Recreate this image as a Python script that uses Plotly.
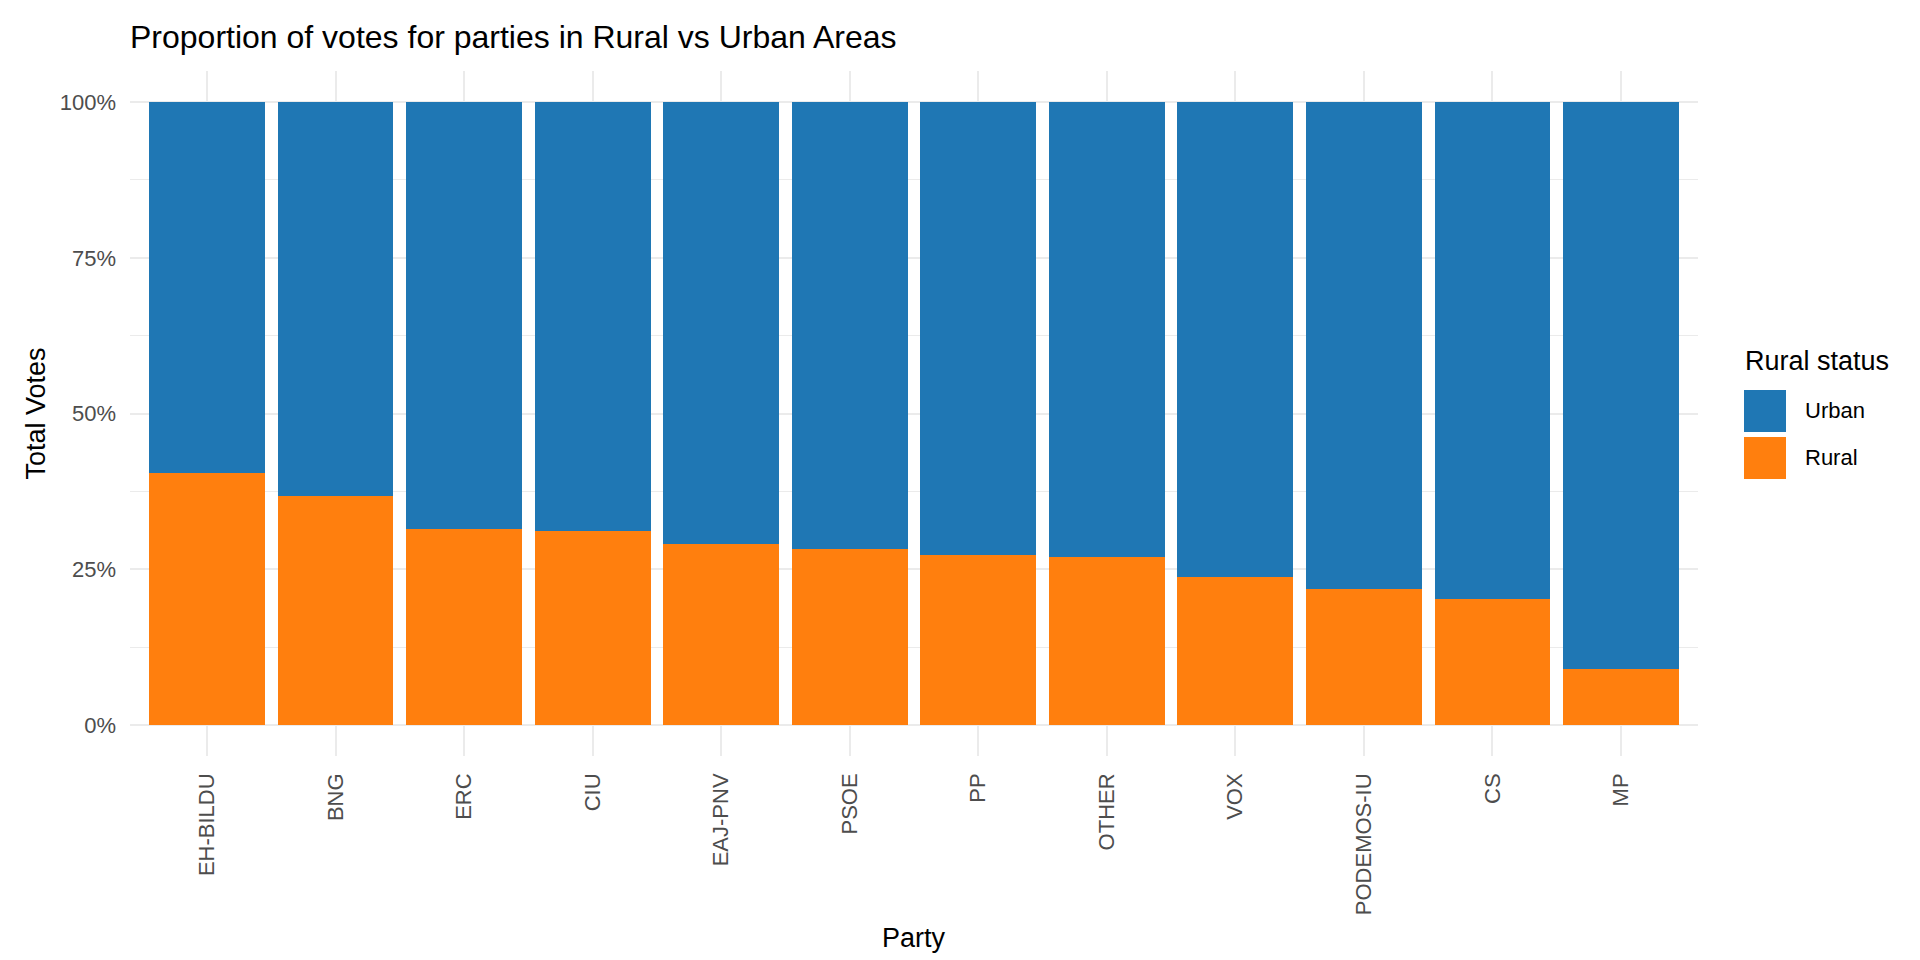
import plotly.graph_objects as go

parties = ["EH-BILDU", "BNG", "ERC", "CIU", "EAJ-PNV", "PSOE", "PP", "OTHER",
           "VOX", "PODEMOS-IU", "CS", "MP"]
rural_share = [0.405, 0.367, 0.315, 0.311, 0.290, 0.283, 0.272, 0.269,
               0.237, 0.218, 0.202, 0.090]
urban_share = [round(1 - r, 3) for r in rural_share]
y_tickvals = [0, 0.25, 0.5, 0.75, 1.0]
y_ticktext = ["0%", "25%", "50%", "75%", "100%"]

BLUE = "#1F77B4"
ORANGE = "#FF7F0E"
GRID = "#EBEBEB"
FONT = "Liberation Sans, Arial, sans-serif"

W, H = 1920, 960
L, R, T, B = 122, 1690, 63, 748  # plot area in pixels


def px(x):
    return (x - L) / (R - L)


def py(y):
    return (B - y) / (B - T)


fig = go.Figure()
fig.add_trace(go.Bar(x=parties, y=rural_share, name="Rural", marker_color=ORANGE,
                     marker_line_width=0, showlegend=False))
fig.add_trace(go.Bar(x=parties, y=urban_share, name="Urban", marker_color=BLUE,
                     marker_line_width=0, showlegend=False))

# legend drawn manually (ggplot-like large keys)
shapes = [
    dict(type="rect", xref="paper", yref="paper", x0=px(1736), x1=px(1778),
         y0=py(424), y1=py(382), fillcolor=BLUE, line_width=0),
    dict(type="rect", xref="paper", yref="paper", x0=px(1736), x1=px(1778),
         y0=py(471), y1=py(429), fillcolor=ORANGE, line_width=0),
]
annotations = [
    dict(text="Rural status", xref="paper", yref="paper", x=px(1735), y=py(353),
         xanchor="left", yanchor="middle", showarrow=False,
         font=dict(family=FONT, size=27, color="#000000")),
    dict(text="Urban", xref="paper", yref="paper", x=px(1795), y=py(403),
         xanchor="left", yanchor="middle", showarrow=False,
         font=dict(family=FONT, size=22, color="#000000")),
    dict(text="Rural", xref="paper", yref="paper", x=px(1795), y=py(450),
         xanchor="left", yanchor="middle", showarrow=False,
         font=dict(family=FONT, size=22, color="#000000")),
    # axis titles
    dict(text="Party", xref="paper", yref="paper", x=0.5, y=py(930),
         xanchor="center", yanchor="middle", showarrow=False,
         font=dict(family=FONT, size=27, color="#000000")),
    dict(text="Total Votes", xref="paper", yref="paper", x=px(27), y=0.5,
         xanchor="center", yanchor="middle", textangle=-90, showarrow=False,
         font=dict(family=FONT, size=27, color="#000000")),
]

fig.update_layout(
    width=W, height=H,
    barmode="stack", bargap=0.1,
    plot_bgcolor="white", paper_bgcolor="white",
    margin=dict(l=L, r=W - R, t=T, b=H - B, autoexpand=False),
    font=dict(family=FONT, color="#000000"),
    title=dict(text="Proportion of votes for parties in Rural vs Urban Areas",
               x=L / W, xref="container", xanchor="left",
               y=1 - 29 / H, yref="container", yanchor="middle",
               font=dict(family=FONT, size=32, color="#000000")),
    shapes=shapes, annotations=annotations,
    showlegend=False,
)
fig.update_xaxes(
    type="category", categoryorder="array", categoryarray=parties,
    range=[-0.6, len(parties) - 0.4],
    showgrid=True, gridcolor=GRID, gridwidth=2,
    showline=False, zeroline=False, ticks="",
    tickangle=-90, ticklabelstandoff=12,
    tickfont=dict(family=FONT, size=22, color="#4D4D4D"),
)
fig.update_yaxes(
    range=[-0.05, 1.05], tickvals=y_tickvals, ticktext=y_ticktext,
    showgrid=True, gridcolor=GRID, gridwidth=2,
    minor=dict(tickvals=[0.125, 0.375, 0.625, 0.875], showgrid=True,
               gridcolor=GRID, gridwidth=1, ticks=""),
    showline=False, zeroline=False, ticks="", ticklabelstandoff=13,
    tickfont=dict(family=FONT, size=22, color="#4D4D4D"),
)

fig.write_html("out.html")
